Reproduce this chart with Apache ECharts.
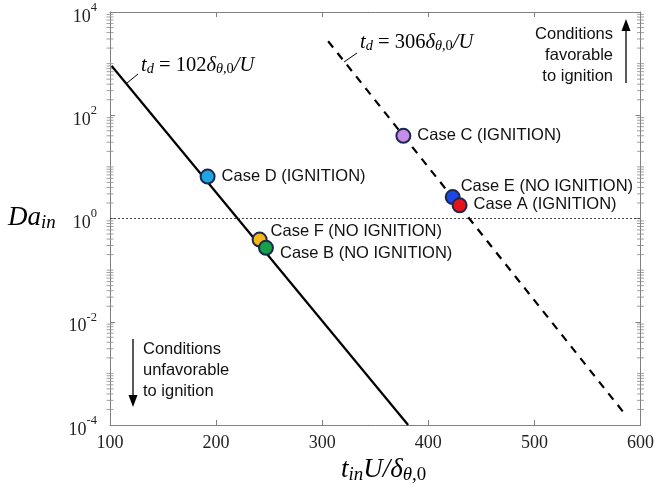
<!DOCTYPE html>
<html>
<head>
<meta charset="utf-8">
<script src="https://cdn.jsdelivr.net/npm/echarts@6/dist/echarts.min.js"></script>
<style>
  html, body { margin: 0; padding: 0; background: #fff; }
  #main { width: 657px; height: 488px; }
</style>
</head>
<body>
<div id="main"></div>
<script>
// cases (x = t_in U / delta, y = Da_in)
const caseNames = ['Case D (IGNITION)', 'Case F (NO IGNITION)', 'Case B (NO IGNITION)', 'Case C (IGNITION)', 'Case E (NO IGNITION)', 'Case A (IGNITION)']
const caseX = [192, 241, 247, 376.5, 423, 429.5]
const caseDa = [6.5, 0.39, 0.27, 40, 2.6, 1.8]
const caseColors = ['#1ea5e6', '#f6b817', '#17a04c', '#c98be8', '#1e48e6', '#e5141b']
// label offsets (px) for each case label
const caseLabelOffset = [[0, 0], [-3, -8], [0, 6], [0, 0], [-6, -11], [0, -1]]

// t_d lines
const td102X = [101.6, 381]
const td102Da = [900, 1e-4]
const td306X = [305.6, 587]
const td306Da = [2717, 1.47e-4]

const xTicks = [100, 200, 300, 400, 500, 600]
const decades = [-4, -3, -2, -1, 0, 1, 2, 3]

// minor log ticks (2..9 in each decade, plus the odd decades)
const minorTicks = []
decades.forEach(d => {
  for (let k = 1; k <= 9; k++) {
    if (k === 1 && d % 2 === 0) continue
    minorTicks.push(k * Math.pow(10, d))
  }
})

const main = document.getElementById('main')
const myChart = echarts.init(main)

const serif = 'Liberation Serif'
const sans = 'Liberation Sans'
const axisGray = '#808080'

const scatterData = caseNames.map((name, i) => ({
  name: name,
  value: [caseX[i], caseDa[i]],
  itemStyle: { color: caseColors[i] },
  label: { offset: caseLabelOffset[i] }
}))

function mathRich(size) {
  return {
    i: { fontFamily: serif, fontStyle: 'italic', fontSize: size, color: '#111' },
    n: { fontFamily: serif, fontSize: size, color: '#111' },
    sub: { fontFamily: serif, fontStyle: 'italic', fontSize: size * 0.7, color: '#111', padding: [size * 0.35, 0, 0, 0] },
    subn: { fontFamily: serif, fontSize: size * 0.7, color: '#111', padding: [size * 0.35, 0, 0, 0] }
  }
}

const tickStyle = { color: '#8a8a8a', width: 1 }

myChart.setOption({
  animation: false,
  grid: { left: 110, right: 16, top: 12, bottom: 63 },
  xAxis: [
    {
      type: 'value', min: 100, max: 600, interval: 100, position: 'bottom',
      axisLine: { lineStyle: { color: axisGray, width: 1 } },
      axisTick: { inside: true, length: 5, lineStyle: { color: axisGray } },
      axisLabel: {
        fontFamily: serif, fontSize: 18, color: '#222', margin: 9,
        customValues: xTicks
      },
      splitLine: { show: false }
    },
    {
      type: 'value', min: 100, max: 600, interval: 100, position: 'top',
      axisLine: { lineStyle: { color: axisGray, width: 1 } },
      axisTick: { inside: true, length: 5, lineStyle: { color: axisGray } },
      axisLabel: { show: false },
      splitLine: { show: false }
    }
  ],
  yAxis: [
    {
      type: 'log', logBase: 10, min: 1e-4, max: 1e4, interval: 2, position: 'left',
      axisLine: { show: true, lineStyle: { color: axisGray, width: 1 } },
      axisTick: { show: true, inside: true, length: 5, lineStyle: { color: axisGray } },
      axisLabel: {
        margin: 13,
        formatter: v => '{b|10}{s|' + Math.round(Math.log10(v)) + '}',
        rich: {
          b: { fontFamily: serif, fontSize: 18, color: '#222', padding: [10, 0, 0, 0] },
          s: { fontFamily: serif, fontSize: 12.5, color: '#222', padding: [0, 0, 9, 0] }
        }
      },
      splitLine: { show: false }
    },
    {
      type: 'log', logBase: 10, min: 1e-4, max: 1e4, interval: 2, position: 'right',
      axisLine: { show: true, lineStyle: { color: axisGray, width: 1 } },
      axisTick: { show: true, inside: true, length: 5, lineStyle: { color: axisGray } },
      axisLabel: { show: false },
      splitLine: { show: false }
    }
  ],
  series: [
    {
      name: 'td102', type: 'line', symbol: 'none',
      data: td102X.map((x, i) => [x, td102Da[i]]),
      lineStyle: { color: '#000', width: 2.2 },
      markLine: {
        silent: true, symbol: 'none', label: { show: false },
        lineStyle: { color: '#444', type: [2, 2], width: 1 },
        data: [{ yAxis: 1 }]
      },
      z: 2
    },
    {
      name: 'td306', type: 'line', symbol: 'none',
      data: td306X.map((x, i) => [x, td306Da[i]]),
      lineStyle: { color: '#000', width: 2.2, type: [8, 7] },
      z: 2
    },
    {
      name: 'cases', type: 'scatter', symbol: 'circle', symbolSize: 14,
      data: scatterData,
      itemStyle: { borderColor: '#1b2a4c', borderWidth: 2, opacity: 1 },
      label: {
        show: true, position: 'right', distance: 6,
        formatter: p => p.name,
        fontFamily: sans, fontSize: 16.5, color: '#111'
      },
      z: 5
    },
    // minor log ticks, left frame edge
    {
      name: 'minorLeft', type: 'scatter', silent: true,
      symbol: 'rect', symbolSize: [7, 1], symbolOffset: [0, 0],
      data: minorTicks.map(v => [100, v]),
      itemStyle: { color: tickStyle.color },
      clip: true, z: 1
    },
    // minor log ticks, right frame edge
    {
      name: 'minorRight', type: 'scatter', silent: true,
      symbol: 'rect', symbolSize: [7, 1], symbolOffset: [0, 0],
      data: minorTicks.map(v => [600, v]),
      itemStyle: { color: tickStyle.color },
      clip: true, z: 1
    }
  ],
  graphic: [
    // Da_in axis name
    {
      type: 'text', x: 8, y: 218,
      style: { text: '{i|Da}{sub|in}', rich: mathRich(27), verticalAlign: 'middle' }
    },
    // x axis name
    {
      type: 'text', x: 341, y: 470,
      style: { text: '{i|t}{sub|in}{i|U/δ}{sub|θ,}{subn|0}', rich: mathRich(27), verticalAlign: 'middle' }
    },
    // t_d labels
    {
      type: 'text', x: 141, y: 66,
      style: { text: '{i|t}{sub|d}{n| = 102}{i|δ}{sub|θ,}{subn|0}{i|/U}', rich: mathRich(20.5), verticalAlign: 'middle' }
    },
    {
      type: 'text', x: 360, y: 43,
      style: { text: '{i|t}{sub|d}{n| = 306}{i|δ}{sub|θ,}{subn|0}{i|/U}', rich: mathRich(20.5), verticalAlign: 'middle' }
    },
    // leader ticks
    { type: 'line', shape: { x1: 127, y1: 83, x2: 138, y2: 74 }, style: { stroke: '#000', lineWidth: 1 } },
    { type: 'line', shape: { x1: 344, y1: 62, x2: 357, y2: 53 }, style: { stroke: '#000', lineWidth: 1 } },
    // favorable note
    {
      type: 'text', x: 613, y: 24,
      style: {
        text: 'Conditions\nfavorable\nto ignition', align: 'right', verticalAlign: 'top',
        fontFamily: sans, fontSize: 16.5, lineHeight: 21, fill: '#111'
      }
    },
    { type: 'line', shape: { x1: 626, y1: 83, x2: 626, y2: 28 }, style: { stroke: '#000', lineWidth: 1.3 } },
    { type: 'polygon', shape: { points: [[626, 19], [621.5, 31], [630.5, 31]] }, style: { fill: '#000' } },
    // unfavorable note
    {
      type: 'text', x: 143, y: 339,
      style: {
        text: 'Conditions\nunfavorable\nto ignition', verticalAlign: 'top',
        fontFamily: sans, fontSize: 16.5, lineHeight: 21, fill: '#111'
      }
    },
    { type: 'line', shape: { x1: 133, y1: 339, x2: 133, y2: 398 }, style: { stroke: '#000', lineWidth: 1.3 } },
    { type: 'polygon', shape: { points: [[133, 407], [128.5, 395], [137.5, 395]] }, style: { fill: '#000' } }
  ]
})
</script>
</body>
</html>
